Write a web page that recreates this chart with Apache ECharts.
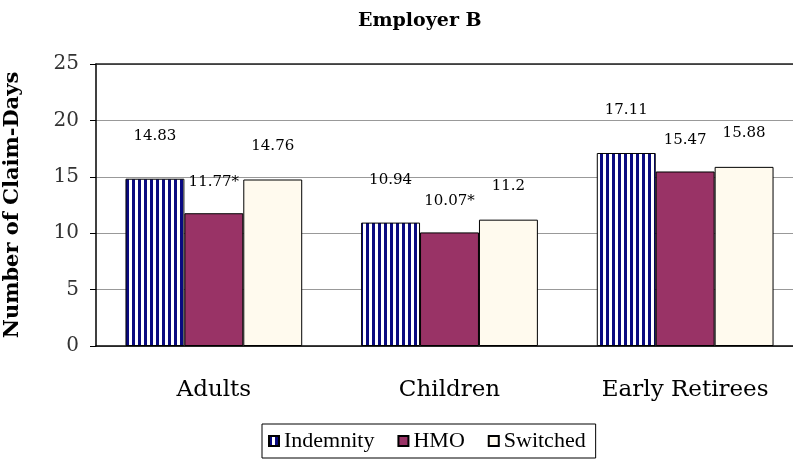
<!DOCTYPE html>
<html>
<head>
<meta charset="utf-8">
<script src="https://cdn.jsdelivr.net/npm/echarts@6/dist/echarts.min.js"></script>
<style>
  html, body { margin: 0; padding: 0; background: #fff; }
  #chart { width: 793px; height: 462px; }
</style>
</head>
<body>
<div id="chart"></div>
<script>
const categories = ['Adults', 'Children', 'Early Retirees'];
const indemnity = [14.83, 10.94, 17.11];
const hmo = [11.77, 10.07, 15.47];
const switched = [14.76, 11.2, 15.88];
const hmoLabels = ['11.77*', '10.07*', '15.47'];

const SERIF = '"Liberation Serif", "Times New Roman", serif';
const WIDE = '"DejaVu Serif", serif';

// vertical navy stripes for the Indemnity bars
function stripes() {
  const c = document.createElement('canvas');
  c.width = 6; c.height = 6;
  const ctx = c.getContext('2d');
  ctx.fillStyle = '#ffffff';
  ctx.fillRect(0, 0, 6, 6);
  ctx.fillStyle = '#0a0a80';
  ctx.fillRect(0, 0, 3, 6);
  return c;
}

const chart = echarts.init(document.getElementById('chart'));

const labelBase = {
  show: true,
  position: 'top',
  color: '#000',
  fontFamily: WIDE,
  fontSize: 15
};

chart.setOption({
  backgroundColor: '#fff',
  animation: false,
  title: {
    text: 'Employer B',
    left: 353,
    top: 7,
    textStyle: { fontFamily: WIDE, fontWeight: 'bold', fontSize: 19, color: '#000' }
  },
  legend: {
    bottom: 4,
    left: 262,
    itemWidth: 10,
    itemHeight: 10,
    itemGap: 23,
    icon: 'rect',
    padding: [6, 10, 6, 6],
    borderColor: '#000',
    borderWidth: 1,
    textStyle: { fontFamily: SERIF, fontSize: 22, color: '#000' },
    data: ['Indemnity', 'HMO', 'Switched']
  },
  grid: { left: 96, right: -10, top: 64, bottom: 116, outerBoundsMode: 'none' },
  xAxis: [{
    type: 'category',
    data: categories,
    axisLine: { lineStyle: { color: '#000', width: 1.5 } },
    axisTick: { show: false },
    axisLabel: { fontFamily: WIDE, fontSize: 23, color: '#000', margin: 33 }
  }, {
    type: 'category',
    position: 'top',
    data: categories,
    axisLine: { lineStyle: { color: '#222', width: 1.5 } },
    axisTick: { show: false },
    axisLabel: { show: false }
  }],
  yAxis: {
    type: 'value',
    min: 0,
    max: 25,
    interval: 5,
    name: 'Number of Claim-Days',
    nameLocation: 'middle',
    nameGap: 73,
    nameTextStyle: { fontFamily: WIDE, fontWeight: 'bold', fontSize: 21, color: '#000' },
    axisLine: { show: true, lineStyle: { color: '#000', width: 1.5 } },
    axisTick: { show: true, length: 6, lineStyle: { color: '#000' } },
    axisLabel: { fontFamily: WIDE, fontSize: 20, color: '#333', margin: 17 },
    splitLine: { lineStyle: { color: '#999', width: 1 } }
  },
  series: [{
    name: 'Indemnity',
    type: 'bar',
    data: indemnity,
    barGap: '0%',
    barCategoryGap: '25%',
    itemStyle: { color: { image: stripes(), repeat: 'repeat' }, borderColor: '#000', borderWidth: 1 },
    label: Object.assign({}, labelBase, { distance: 35 })
  }, {
    name: 'HMO',
    type: 'bar',
    data: hmo,
    itemStyle: { color: '#993366', borderColor: '#000', borderWidth: 1 },
    label: Object.assign({}, labelBase, {
      distance: 24,
      formatter: p => hmoLabels[p.dataIndex]
    })
  }, {
    name: 'Switched',
    type: 'bar',
    data: switched,
    itemStyle: { color: '#fffaee', borderColor: '#000', borderWidth: 1 },
    label: Object.assign({}, labelBase, { distance: 26 })
  }]
});
</script>
</body>
</html>
